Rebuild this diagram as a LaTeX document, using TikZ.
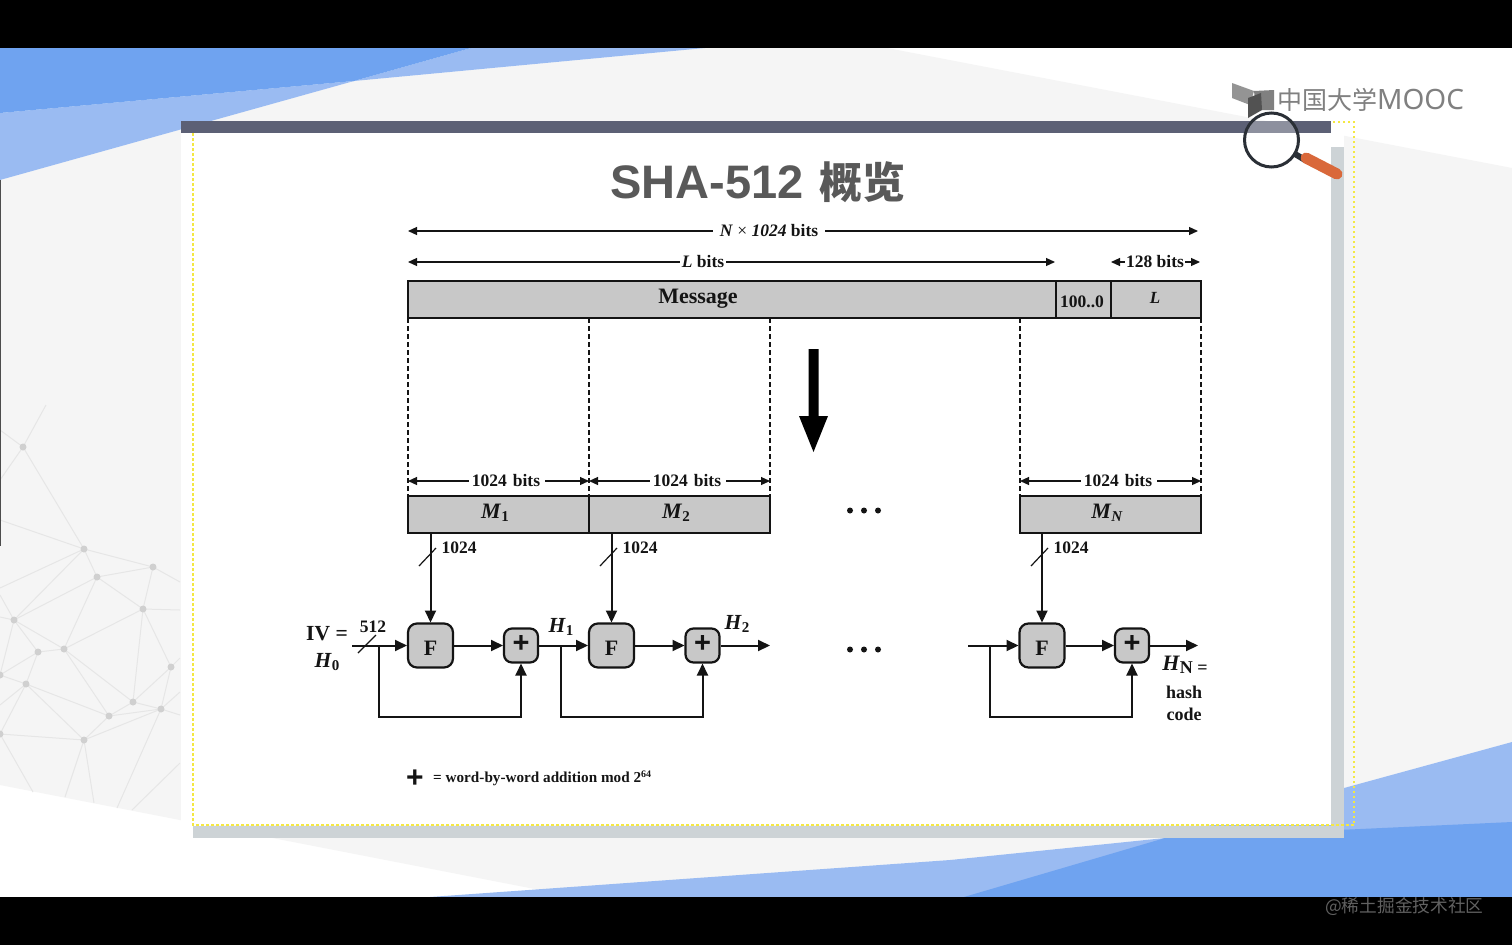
\documentclass[tikz,border=0pt]{standalone}
\usepackage{fontspec}
\setmainfont{Liberation Serif}
\newfontfamily\sansf{Liberation Sans}
\newfontfamily\cjk{Noto Sans CJK SC}
\newfontfamily\latinlogo{Noto Sans}
\usetikzlibrary{arrows.meta}
\newcommand\fs[1]{\fontsize{#1}{#1}\selectfont}
\newcommand\sbs[1]{\raisebox{-3.5pt}{\fs{15}#1}}
\definecolor{ink}{HTML}{141414}
\definecolor{boxgray}{HTML}{C8C8C8}
\definecolor{bgray}{HTML}{F5F5F5}
\definecolor{bluedark}{HTML}{6FA3F0}
\definecolor{bluelight}{HTML}{9ABBF2}
\definecolor{barc}{HTML}{5C6075}
\definecolor{shadowc}{HTML}{CDD3D6}
\definecolor{yell}{HTML}{F4E842}
\definecolor{netc}{HTML}{E6E6E6}
\definecolor{netd}{HTML}{D0D0D0}
\definecolor{ringc}{HTML}{2A2F36}
\definecolor{handlec}{HTML}{D9683A}
\tikzset{
  txt/.style={inner sep=0pt,font=\bfseries\fs{17.5},text=ink},
  bigbox/.style={draw=ink,line width=2.2pt,fill=boxgray,inner sep=0pt,outer sep=0pt,font=\bfseries\fs{22},text=ink},
  fbox/.style={draw=ink,line width=2.2pt,fill=boxgray,rounded corners=9pt,minimum width=45pt,minimum height=44pt,inner sep=0pt,outer sep=1pt},
  addbox/.style={draw=ink,line width=2.2pt,fill=boxgray,rounded corners=8pt,minimum width=34pt,minimum height=34pt,inner sep=0pt,outer sep=1pt},
  flab/.style={inner sep=0pt,font=\bfseries\fs{22},text=ink},
  plab/.style={inner sep=0pt,font=\bfseries\sansf\fs{29},text=ink},
  flow/.style={draw=ink,line width=2pt,-{Triangle[length=12pt,width=11pt]}},
  dim/.style={draw=ink,line width=1.2pt,-{Triangle[length=9pt,width=8pt]}},
  tick/.style={draw=ink,line width=1.2pt},
  dashline/.style={draw=ink,line width=2pt,dash pattern=on 4.5pt off 3.5pt},
  yellowline/.style={draw=yell,line width=2.2pt,dash pattern=on 2.5pt off 2.5pt},
  netline/.style={draw=netc,line width=1pt},
}
\begin{document}
\begin{tikzpicture}[x=1pt,y=-1pt]
\useasboundingbox (0,0) rectangle (1512,945);
\fill[white] (0,0) rectangle (1512,945);
% background
\fill[bgray] (0,180) -- (354,81) -- (705,48) -- (887,48) -- (1512,168) -- (1512,742) -- (1344,788) -- (1165,838) -- (950,860) -- (540,890) -- (0,785) -- cycle;
% network
\begin{scope}[netline]
\foreach \ax/\ay/\bx/\by in {
 23/447/84/549, 23/447/0/430, 23/447/46/405, 23/447/0/480, 0/520/84/549, 84/549/153/567, 84/549/97/577, 97/577/153/567,
 84/549/0/588, 84/549/14/620, 97/577/14/620, 97/577/64/649, 97/577/143/609, 153/567/143/609, 153/567/180/582,
 143/609/64/649, 143/609/133/702, 143/609/171/667, 143/609/180/610, 14/620/64/649, 14/620/38/652, 14/620/0/675,
 14/620/0/617, 14/620/0/595, 38/652/64/649, 38/652/26/684, 38/652/0/675, 26/684/0/675, 26/684/109/716,
 26/684/84/740, 26/684/0/734, 26/684/0/705, 64/649/109/716, 64/649/133/702, 133/702/171/667, 133/702/109/716,
 133/702/161/709, 109/716/161/709, 109/716/84/740, 84/740/161/709, 171/667/161/709, 171/667/180/658, 161/709/180/715,
 161/709/180/692, 161/709/117/808, 84/740/0/734, 84/740/65/797, 84/740/94/803, 0/734/33/792, 180/763/132/810}
  {\draw (\ax,\ay) -- (\bx,\by);}
\end{scope}
\foreach \x/\y in {23/447,84/549,153/567,97/577,143/609,14/620,38/652,64/649,26/684,171/667,133/702,109/716,161/709,84/740,0/734,0/675}
  {\fill[netd] (\x,\y) circle (3.5pt);}
% blue shapes
\fill[bluelight] (471,48) -- (705,48) -- (354,81) -- (0,180) -- (0,113) -- (354,81) -- cycle;
\fill[bluedark] (0,48) -- (471,48) -- (354,81) -- (0,113) -- cycle;
\fill[bluelight] (1512,742) -- (1344,788) -- (1165,838) -- (950,860) -- (430,897) -- (1512,897) -- cycle;
\fill[bluedark] (1512,822) -- (1165,838) -- (964,897) -- (1512,897) -- cycle;
% black bands
\fill[black] (0,0) rectangle (1512,48);
\fill[black] (0,897) rectangle (1512,945);
\fill[black!70] (0,180) rectangle (1,546);
% panel
\fill[white] (181,133) rectangle (1331,825);
\fill[white] (181,825) rectangle (193,838);
\fill[white] (1331,121) rectangle (1344,147);
\fill[shadowc] (193,826) rectangle (1344,838);
\fill[shadowc] (1331,147) rectangle (1344,838);
\fill[barc] (181,121) rectangle (1331,133);
\draw[yellowline] (193,133) -- (193,825) -- (1354,825) -- (1354,122) -- (1331,122);
% logo
\fill[black!42] (1232,83) -- (1254,91) -- (1250,105) -- (1232,98) -- cycle;
\fill[black!50] (1254,91) -- (1274,90) -- (1274,110) -- (1256,110) -- cycle;
\fill[black!68] (1248,98) -- (1261,93) -- (1262,110) -- (1248,118) -- cycle;
\node[inner sep=0pt,anchor=west,text=black!50] (logo) at (1277,100) {\fs{25}\cjk 中国大学\fs{28}\latinlogo MOOC};
% magnifier
\draw[line width=3pt,draw=ringc,fill=white,fill opacity=0.3] (1271.5,140) circle (27pt);
\draw[line width=6pt,draw=ringc] (1295,154) -- (1305,160);
\draw[line width=11pt,line cap=round,draw=handlec] (1306,158) -- (1337,174);
% title
\node[inner sep=0pt,text=black!65,anchor=west] (title) at (610,182) {\bfseries\sansf\fs{47}SHA-512\hspace{16pt}\cjk\fs{43}概览};
% top dimension lines
\coordinate (t1) at (408,231);\coordinate (t2) at (1198,231);
\node[txt] (nlab) at (769,231) {\textit{N} \textmd{×} \textit{1024} bits};
\draw[dim] ([xshift=-7pt]nlab.west) -- (t1);
\draw[dim] ([xshift=7pt]nlab.east) -- (t2);
\coordinate (l1) at (408,262);\coordinate (l2) at (1055,262);
\node[txt] (llab) at (703,262) {\textit{L} bits};
\draw[dim] ([xshift=-2pt]llab.west) -- (l1);
\draw[dim] ([xshift=2pt]llab.east) -- (l2);
\coordinate (b1) at (1111,262);\coordinate (b2) at (1200,262);
\node[txt] (blab) at (1155,262) {128 bits};
\draw[dim] ([xshift=-1pt]blab.west) -- (b1);
\draw[dim] ([xshift=1pt]blab.east) -- (b2);
% message bar
\node[bigbox,minimum width=648pt,minimum height=37pt] (msg) at (732,299.5) {};
\node[bigbox,minimum width=55pt,minimum height=37pt] (pad) at (1083.5,299.5) {};
\node[bigbox,minimum width=90pt,minimum height=37pt] (len) at (1156,299.5) {};
\node[txt,font=\bfseries\fs{22}] (msglab) at (698,298.5) {Message};
\node[txt,font=\bfseries\fs{17.5}] (padlab) at (1082,302) {100..0};
\node[txt,font=\bfseries\itshape\fs{17}] (lenlab) at (1155,298) {L};
% M boxes
\coordinate (d2) at (589,318);\coordinate (d3) at (770,318);\coordinate (d4) at (1020,318);
\node[bigbox,minimum width=181pt,minimum height=37pt] (m1) at (498.5,514.5) {};
\node[bigbox,minimum width=181pt,minimum height=37pt] (m2) at (679.5,514.5) {};
\node[bigbox,minimum width=181pt,minimum height=37pt] (mn) at (1110.5,514.5) {};
\node[txt,font=\bfseries\fs{22}] (m1l) at (495,513) {\textit{M}\sbs{1}};
\node[txt,font=\bfseries\fs{22}] (m2l) at (676,513) {\textit{M}\sbs{2}};
\node[txt,font=\bfseries\fs{22}] (mnl) at (1107,513) {\textit{M}\sbs{\textit{N}}};
\draw[dashline] (msg.south west) -- (m1.north west);
\draw[dashline] (d2) -- (m1.north east);
\draw[dashline] (d3) -- (m2.north east);
\draw[dashline] (d4) -- (mn.north west);
\draw[dashline] (len.south east) -- (mn.north east);
% big arrow
\fill[black] (808.5,349) -- (818.5,349) -- (818.5,416) -- (828,416) -- (813.5,452) -- (799,416) -- (808.5,416) -- cycle;
% block dims
\foreach \n/\a/\b/\c in {a/408/589/506,b/589/770/687,c/1020/1201/1118}{
  \coordinate (\n l) at (\a,481);\coordinate (\n r) at (\b,481);
  \node[txt] (\n lab) at (\c,481) {1024\hspace{6pt}bits};
  \draw[dim] ([xshift=-3pt]\n lab.west) -- (\n l);
  \draw[dim] ([xshift=5pt]\n lab.east) -- (\n r);
}
% dots
\foreach \y in {510.5,649.5}{\foreach \x in {850,864,878}{\fill[ink] (\x,\y) circle (3pt);}}
% function boxes
\node[fbox] (f1) at (430.5,645.5) {};
\node[fbox] (f2) at (611.5,645.5) {};
\node[fbox] (f3) at (1042,645.5) {};
\node[addbox] (p1) at (521,645.5) {};
\node[addbox] (p2) at (702.5,645.5) {};
\node[addbox] (p3) at (1132,645.5) {};
\node[flab] (fl1) at (430.5,648) {F};
\node[flab] (fl2) at (611.5,648) {F};
\node[flab] (fl3) at (1042,648) {F};
\node[plab] (pl1) at (521,644) {+};
\node[plab] (pl2) at (702.5,644) {+};
\node[plab] (pl3) at (1132,644) {+};
% vertical inputs
\coordinate (v1) at (f1 |- m1.south);
\coordinate (v2) at (f2 |- m2.south);
\coordinate (v3) at (f3 |- mn.south);
\draw[flow] (v1) -- (f1.north);
\draw[flow] (v2) -- (f2.north);
\draw[flow] (v3) -- (f3.north);
\coordinate (ta1) at (419,566);\coordinate (tb1) at (436,548);
\coordinate (ta2) at (600,566);\coordinate (tb2) at (617,548);
\coordinate (ta3) at (1031,566);\coordinate (tb3) at (1048,548);
\draw[tick] (ta1) -- (tb1);\draw[tick] (ta2) -- (tb2);\draw[tick] (ta3) -- (tb3);
\node[txt] (w1) at (459,548) {1024};
\node[txt] (w2) at (640,548) {1024};
\node[txt] (w3) at (1071,548) {1024};
% IV
\coordinate (iv) at (352,645.5);
\draw[flow] (iv) -- (f1.west);
\coordinate (ta0) at (358,653);\coordinate (tb0) at (376,635);
\draw[tick] (ta0) -- (tb0);
\node[txt] (w0) at (373,627) {512};
\node[txt,font=\bfseries\fs{21.5}] (ivl) at (327,634) {IV =};
\node[txt,font=\bfseries\fs{21.5}] (h0) at (327,662) {\textit{H}\sbs{0}};
% chain arrows
\draw[flow] (f1.east) -- (p1.west);
\draw[flow] (p1.east) -- (f2.west);
\draw[flow] (f2.east) -- (p2.west);
\coordinate (out2) at (770,645.5);
\draw[flow] (p2.east) -- (out2);
\coordinate (in3) at (968,645.5);
\draw[flow] (in3) -- (f3.west);
\draw[flow] (f3.east) -- (p3.west);
\coordinate (out3) at (1198,645.5);
\draw[flow] (p3.east) -- (out3);
% feedback
\coordinate (s1) at (379,645.5);\coordinate (c1) at (379,716.5);\coordinate (e1) at (521,716.5);
\coordinate (s2) at (560.5,645.5);\coordinate (c2) at (560.5,716.5);\coordinate (e2) at (702.5,716.5);
\coordinate (s3) at (990,645.5);\coordinate (c3) at (990,716.5);\coordinate (e3) at (1132,716.5);
\draw[flow] (s1) -- (c1) -- (e1) -- (p1.south);
\draw[flow] (s2) -- (c2) -- (e2) -- (p2.south);
\draw[flow] (s3) -- (c3) -- (e3) -- (p3.south);
% H labels
\node[txt,font=\bfseries\fs{21.5}] (h1) at (561,627) {\textit{H}\sbs{1}};
\node[txt,font=\bfseries\fs{21.5}] (h2) at (737,624) {\textit{H}\sbs{2}};
\node[txt,font=\bfseries\fs{22}] (hn) at (1185,665) {\textit{H}\raisebox{-3.5pt}{\fs{18}N =}};
\node[txt,font=\bfseries\fs{18}] (hash) at (1184,692) {hash};
\node[txt,font=\bfseries\fs{18}] (code) at (1184,714) {code};
% legend
\node[inner sep=0pt,font=\bfseries\sansf\fs{30},text=ink] (lp) at (415,779) {+};
\node[txt,anchor=west,font=\bfseries\fs{15.2}] (lt) at (433,778) {= word-by-word addition mod 2\raisebox{5pt}{\fs{10}64}};
% watermark
\node[inner sep=0pt,anchor=west,text=black!62!white] (wm) at (1325,907) {\fs{17.7}\cjk @稀土掘金技术社区};
\end{tikzpicture}
\end{document}
